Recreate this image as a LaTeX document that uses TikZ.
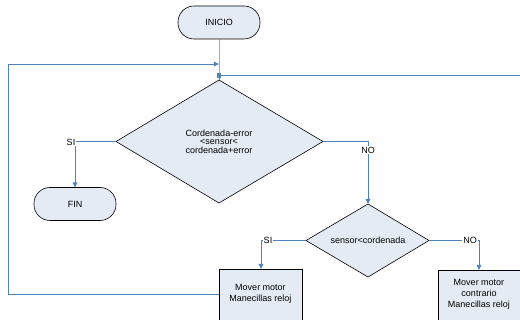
\documentclass[tikz,border=0pt]{standalone}
\usepackage{fontspec}
\setmainfont{Liberation Sans}
\usetikzlibrary{shapes.geometric,arrows.meta,calc}
\definecolor{fillc}{HTML}{E5EBF5}
\definecolor{linec}{HTML}{4F81BD}
\tikzset{
  every node/.style={font=\fontsize{9}{11}\selectfont, inner sep=0pt, outer sep=0pt},
  term/.style={draw=black, fill=fillc, line width=0.6pt, rounded corners=16pt, minimum width=#1, minimum height=33pt},
  proc/.style={draw=black, fill=fillc, line width=0.6pt, minimum width=83pt, minimum height=52pt, align=center},
  decshape/.style={draw=black, fill=fillc, line width=0.6pt},
  conn/.style={draw=linec, line width=0.9pt},
  arr/.style={conn, -{Triangle[length=5pt,width=4.5pt]}},
  lbl/.style={fill=white, inner sep=0.8pt},
}
\begin{document}
\begin{tikzpicture}[x=1pt,y=-1pt]
\useasboundingbox (0,0) rectangle (520,320);
\clip (0,0) rectangle (520,320);
% terminals
\node[term=82pt] (inicio) at (219,22.5) {INICIO};
\node[term=82pt] (fin) at (75,204) {FIN};
% decision 1
\coordinate (d1) at (219,141.5);
\coordinate (d1l) at (116,141.5);
\coordinate (d1r) at (323,141.5);
\coordinate (d1top) at (219,80);
\coordinate (d1bot) at (219,203);
\draw[decshape] (d1l) -- (d1top) -- (d1r) -- (d1bot) -- cycle;
\node[align=center, font=\fontsize{9}{8.7}\selectfont] (d1t) at (d1) {Cordenada-error\\<sensor<\\cordenada+error};
% decision 2
\coordinate (d2) at (368,240.5);
\coordinate (d2l) at (306,240.5);
\coordinate (d2r) at (429,240.5);
\coordinate (d2top) at (368,204);
\coordinate (d2bot) at (368,277);
\draw[decshape] (d2l) -- (d2top) -- (d2r) -- (d2bot) -- cycle;
\node (d2t) at (d2) {sensor<cordenada};
% process boxes
\node[proc, anchor=north west, minimum width=83pt, minimum height=56pt] (m1) at (219,269) {};
\node[align=center] (m1t) at (260.5,294) {Mover motor\\Manecillas reloj};
\node[proc, anchor=north west, minimum width=84pt, minimum height=56pt] (m2) at (438,270) {};
\node[align=center] (m2t) at (479,294) {Mover motor\\contrario\\Manecillas reloj};
% helper coordinates
\coordinate (j) at (219,75.7);
\coordinate (jr) at (520,75.7);
\coordinate (c1) at (75,141.5);
\coordinate (c2) at (368,141.5);
\coordinate (c3) at (261,240.5);
\coordinate (c4) at (479,240.5);
\coordinate (lb) at (8,294);
\coordinate (lt) at (8,64);
\coordinate (lin) at (219,64);
% connectors
\draw[conn] (inicio.south) -- (j) -- (d1top);
\draw[conn] (j) -- (jr);
\fill[linec] ($(j)+(-2.2,-2.2)$) rectangle ($(j)+(2.2,2.2)$);
\draw[arr] (m1.west |- lb) -- (lb) -- (lt) -- (lin);
\draw[arr] (d1l) -- (c1) -- (fin.north);
\draw[arr] (d1r) -- (c2) -- (d2top);
\draw[arr] (d2l) -- (c3) -- (m1.north -| c3);
\draw[arr] (d2r) -- (c4) -- (m2.north -| c4);
% labels
\node[lbl] (si1) at (71,142) {SI};
\node[lbl] (no1) at (368,150) {NO};
\node[lbl] (si2) at (268,240.5) {SI};
\node[lbl] (no2) at (470,240.5) {NO};
\end{tikzpicture}
\end{document}
